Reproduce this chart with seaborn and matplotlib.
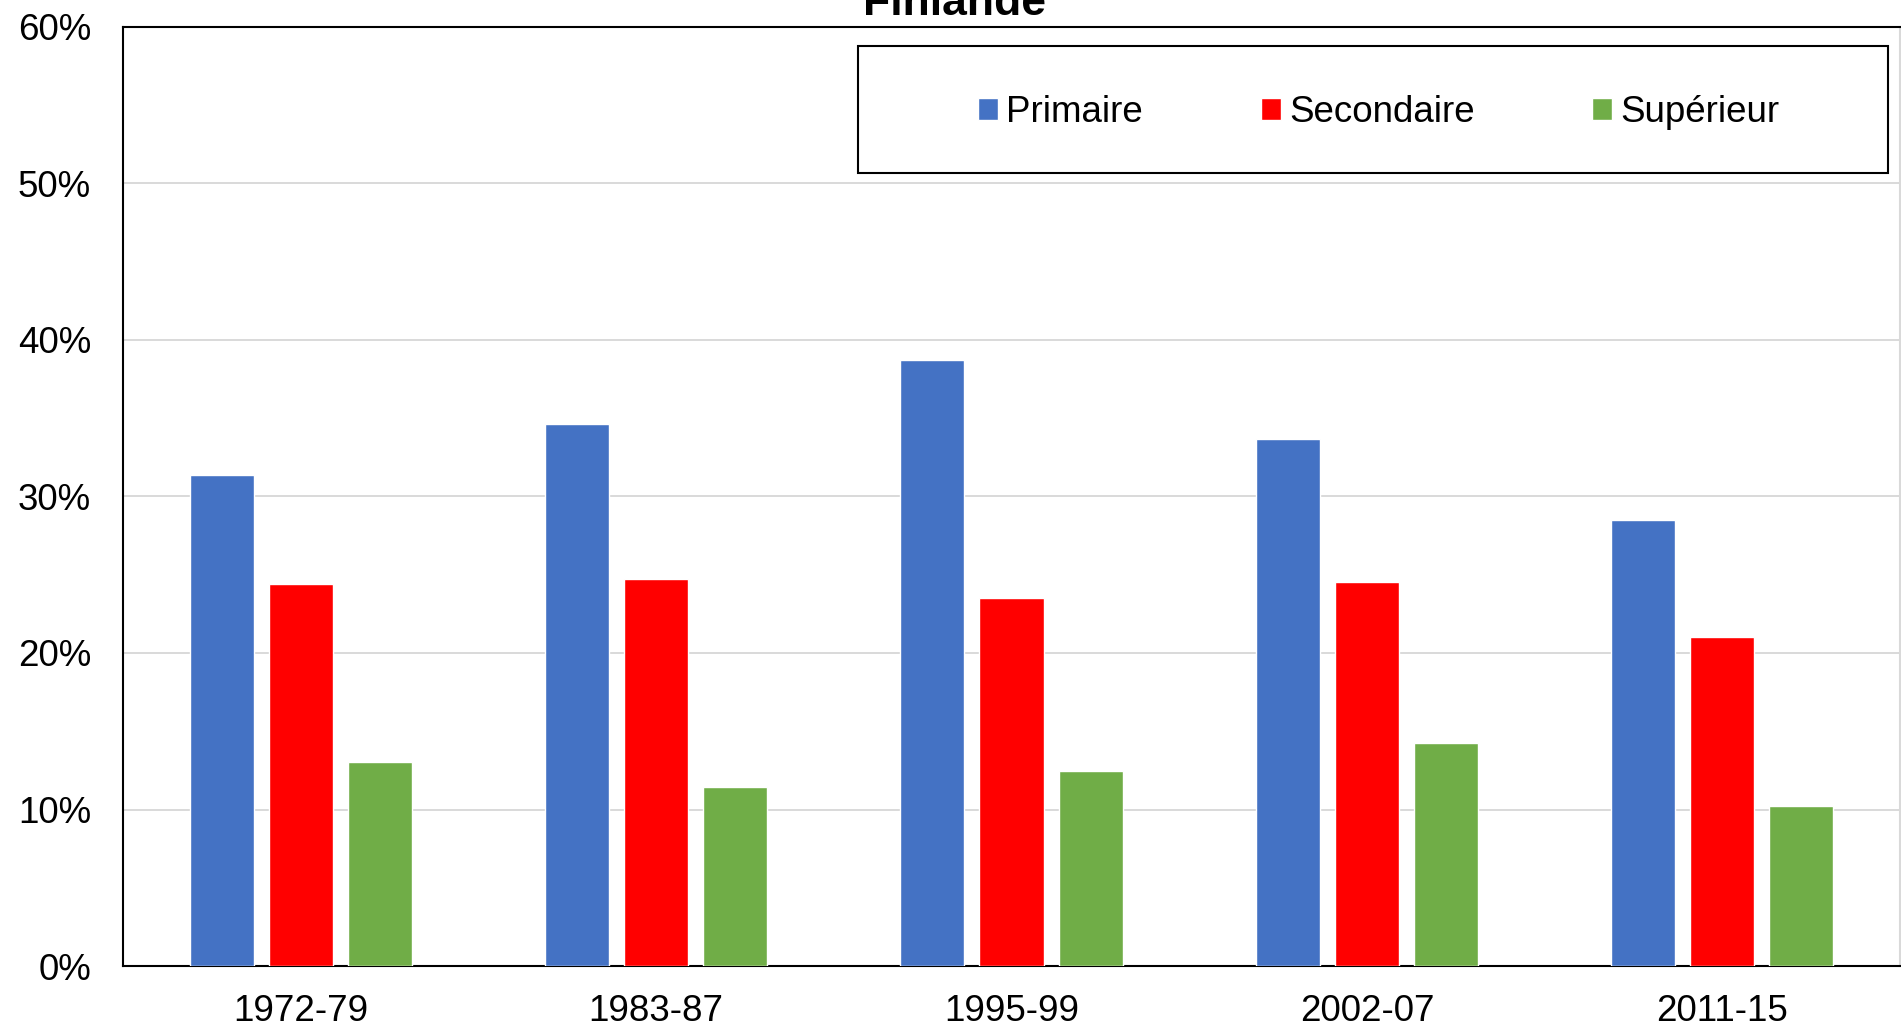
import pandas as pd
import seaborn as sns
import matplotlib.pyplot as plt
import matplotlib.ticker as mtick
from matplotlib.patches import Rectangle

periodes = ['1972-79', '1983-87', '1995-99', '2002-07', '2011-15']
niveaux = ['Primaire', 'Secondaire', 'Supérieur']
primaire = [0.3137, 0.3466, 0.3870, 0.3370, 0.2848]
secondaire = [0.2439, 0.2471, 0.2350, 0.2456, 0.2102]
superieur = [0.1306, 0.1144, 0.1244, 0.1427, 0.1025]
couleurs = {'Primaire': '#4472C4', 'Secondaire': '#FF0000', 'Supérieur': '#70AD47'}

df = pd.DataFrame({
    'Periode': periodes * 3,
    'Niveau': [n for n in niveaux for _ in periodes],
    'Part': primaire + secondaire + superieur,
})

sns.set_style('white')
plt.rcParams['font.family'] = ['Liberation Sans', 'DejaVu Sans']
plt.rcParams['text.color'] = 'black'

fig = plt.figure(figsize=(19.01, 10.27), dpi=100)
ax = fig.add_axes([123 / 1901, 61 / 1027, 1777 / 1901, 939 / 1027])

sns.barplot(data=df, x='Periode', y='Part', hue='Niveau', hue_order=niveaux,
            order=periodes, palette=couleurs, width=0.667, gap=0.19,
            saturation=1, ax=ax, zorder=3)

ax.set_ylim(0, 0.6)
ax.set_xlim(-0.5, 4.5)
ax.set_yticks([0, 0.1, 0.2, 0.3, 0.4, 0.5, 0.6])
ax.yaxis.set_major_formatter(mtick.PercentFormatter(1.0, decimals=0))
ax.grid(axis='y', color='#d9d9d9', linewidth=1.4, zorder=0)
ax.set_axisbelow(True)
ax.set_xlabel('')
ax.set_ylabel('')
ax.tick_params(axis='both', length=0, labelsize=26.5, colors='black')
ax.tick_params(axis='y', pad=23)
ax.tick_params(axis='x', pad=20)
for side in ['left', 'bottom', 'top']:
    ax.spines[side].set_color('black')
    ax.spines[side].set_linewidth(1.5)
ax.spines['right'].set_color('#d9d9d9')
ax.spines['right'].set_linewidth(1.5)

handles, labels = ax.get_legend_handles_labels()
ax.legend(handles, labels, loc='center', bbox_to_anchor=(0.7068, 0.909),
          ncol=3, frameon=False, fontsize=26.5, handlelength=0.54,
          handleheight=0.54, handletextpad=0.22, columnspacing=3.2,
          labelcolor='black')
ax.add_patch(Rectangle((0.4136, 0.8445), 0.5794, 0.1355, transform=ax.transAxes,
                       facecolor='white', edgecolor='black', linewidth=1.5, zorder=4))

fig.text(0.502, 1 - 15 / 1027, 'Finlande', ha='center', va='baseline',
         fontsize=32, fontweight='bold', color='black')

fig.savefig('out.png', dpi=100)
